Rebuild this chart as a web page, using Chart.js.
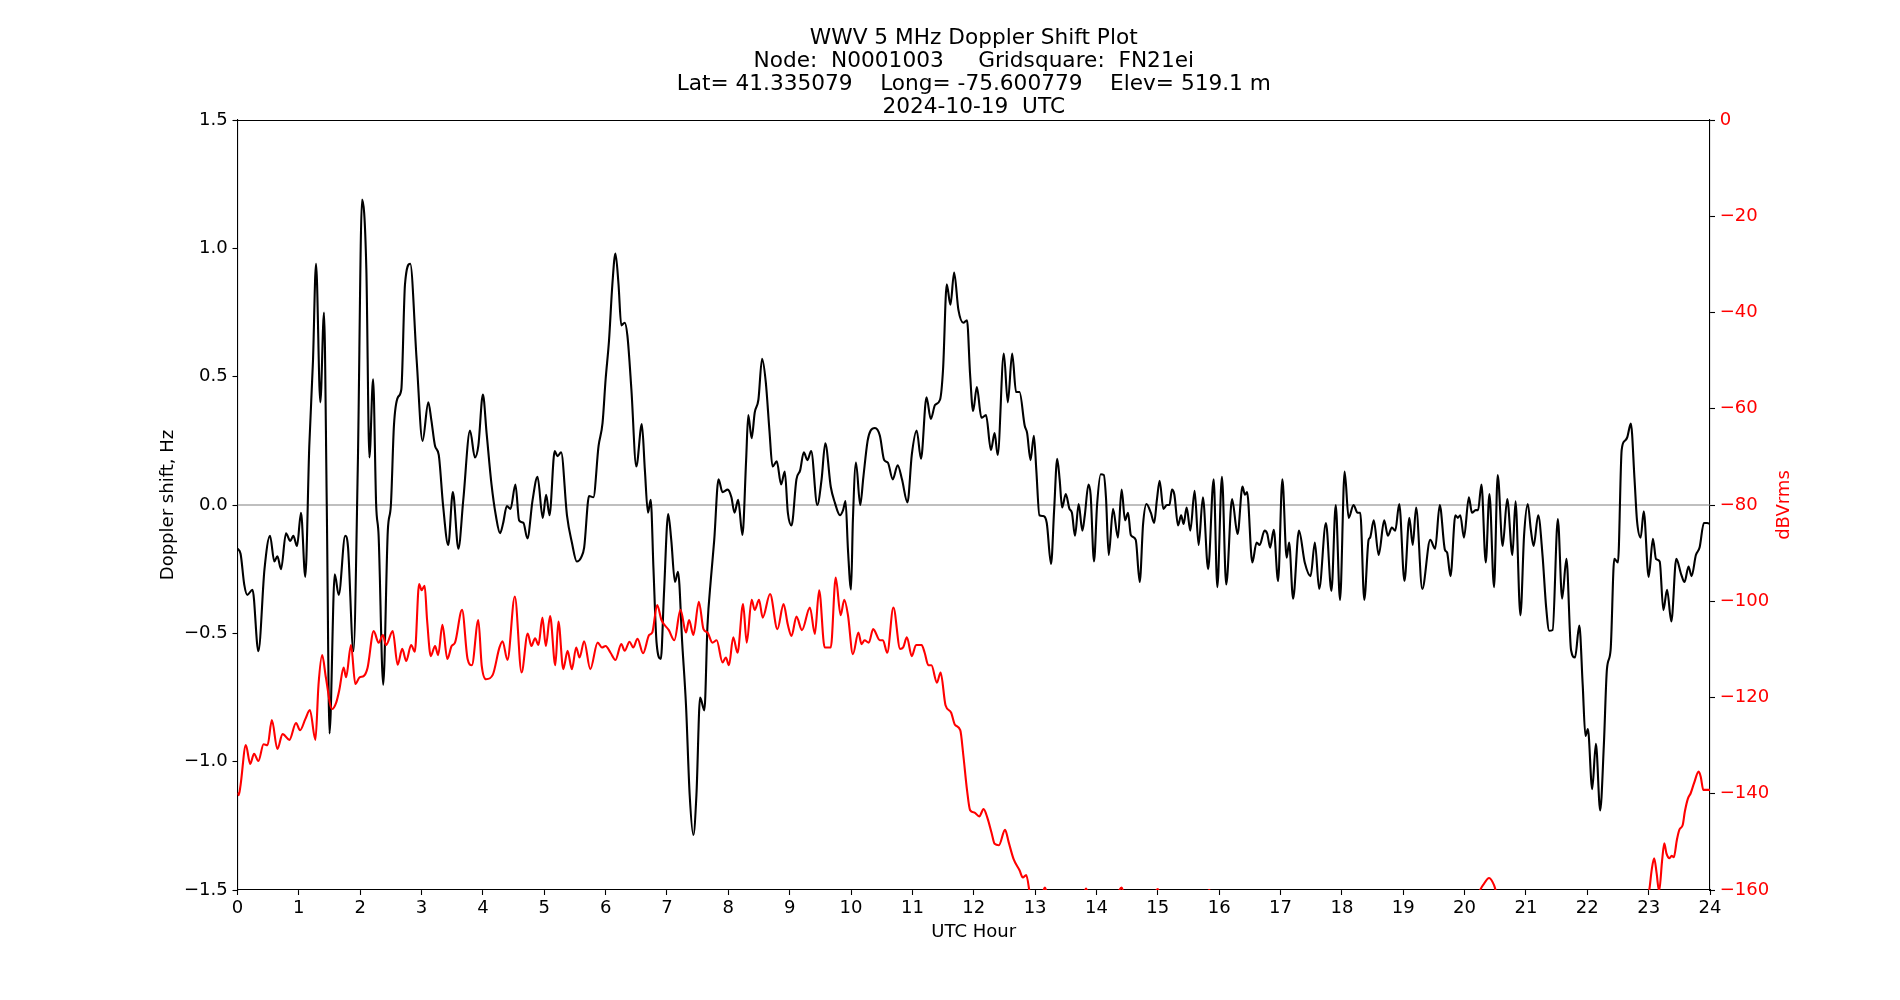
<!DOCTYPE html>
<html>
<head>
<meta charset="utf-8">
<title>WWV 5 MHz Doppler Shift Plot</title>
<script src="https://cdn.jsdelivr.net/npm/chart.js@4.4.1/dist/chart.umd.min.js"></script>
<style>
  html, body { margin:0; padding:0; background:#fff; }
  canvas { display:block; }
</style>
</head>
<body>
<canvas id="dopplerChart" width="1900" height="1000"></canvas>
<script>
/***********************
 * TEXTE
 ***********************/
var TITLE_LINES = [
  "WWV 5 MHz Doppler Shift Plot",
  "Node:  N0001003     Gridsquare:  FN21ei",
  "Lat= 41.335079    Long= -75.600779    Elev= 519.1 m",
  "2024-10-19  UTC"
];
var X_LABEL = "UTC Hour";
var LEFT_LABEL = "Doppler shift, Hz";
var RIGHT_LABEL = "dBVrms";

/***********************
 * ACHSEN
 ***********************/
var X_MIN = 0, X_MAX = 24, X_STEP = 1;
var LEFT_MIN = -1.5, LEFT_MAX = 1.5, LEFT_STEP = 0.5;
var RIGHT_MIN = -160, RIGHT_MAX = 0, RIGHT_STEP = 20;
var ZERO_LEVEL = 0;

/***********************
 * DATEN
 ***********************/
// Doppler shift (Hz), black line
var DOPPLER_HOURS = [
  0.00,0.05,0.11,0.16,0.245,0.34,0.44,0.53,0.60,0.65,0.71,0.79,0.86,0.91,0.97,1.035,1.105,1.17,1.23,1.28,
  1.35,1.41,1.455,1.50,1.585,1.65,1.755,1.80,1.89,1.96,2.03,2.10,2.15,2.21,2.26,2.30,2.375,2.45,2.50,2.55,
  2.615,2.67,2.73,2.815,2.92,3.016,3.11,3.16,3.22,3.28,3.35,3.435,3.51,3.60,3.68,3.79,3.87,3.925,4.00,4.06,
  4.14,4.21,4.28,4.33,4.39,4.45,4.53,4.59,4.66,4.725,4.81,4.89,4.975,5.03,5.085,5.17,5.215,5.275,5.37,5.45,
  5.53,5.60,5.65,5.73,5.80,5.885,5.95,6.00,6.055,6.11,6.16,6.21,6.255,6.31,6.355,6.42,6.50,6.59,6.64,6.69,
  6.735,6.78,6.83,6.90,6.95,7.02,7.07,7.13,7.18,7.25,7.31,7.37,7.43,7.48,7.54,7.61,7.66,7.715,7.77,7.84,
  7.905,7.99,8.05,8.10,8.16,8.23,8.29,8.325,8.38,8.43,8.49,8.55,8.61,8.67,8.72,8.79,8.86,8.92,8.97,9.03,
  9.11,9.17,9.23,9.29,9.35,9.45,9.52,9.58,9.67,9.735,9.82,9.87,9.91,9.95,10.00,10.03,10.08,10.15,10.20,10.27,
  10.32,10.39,10.47,10.54,10.60,10.68,10.76,10.83,10.92,10.99,11.07,11.14,11.23,11.30,11.37,11.45,11.50,11.56,11.62,11.68,
  11.75,11.83,11.89,11.94,11.99,12.05,12.125,12.20,12.28,12.34,12.39,12.49,12.555,12.626,12.69,12.746,12.83,12.87,12.925,12.98,
  13.02,13.07,13.13,13.19,13.26,13.31,13.36,13.40,13.44,13.50,13.56,13.60,13.65,13.71,13.77,13.81,13.87,13.905,13.96,14.01,
  14.07,14.12,14.155,14.20,14.27,14.35,14.41,14.466,14.515,14.56,14.64,14.705,14.76,14.815,14.886,14.94,14.985,15.03,15.09,15.15,
  15.19,15.23,15.27,15.33,15.38,15.42,15.47,15.53,15.60,15.665,15.735,15.82,15.91,15.97,16.045,16.115,16.21,16.30,16.38,16.42,
  16.455,16.54,16.61,16.66,16.74,16.785,16.83,16.89,16.96,17.03,17.10,17.14,17.205,17.30,17.395,17.49,17.56,17.63,17.74,17.83,
  17.90,17.97,18.045,18.11,18.19,18.255,18.30,18.365,18.435,18.46,18.52,18.60,18.69,18.75,18.815,18.87,18.935,19.02,19.10,19.155,
  19.21,19.31,19.44,19.52,19.595,19.68,19.715,19.77,19.85,19.89,19.93,19.99,20.07,20.12,20.18,20.22,20.275,20.345,20.405,20.48,
  20.54,20.62,20.695,20.78,20.83,20.91,20.97,21.03,21.08,21.125,21.20,21.27,21.33,21.38,21.435,21.52,21.59,21.66,21.735,21.80,
  21.87,21.925,21.97,22.01,22.08,22.14,22.21,22.27,22.32,22.38,22.44,22.50,22.56,22.61,22.65,22.71,22.77,22.81,22.87,22.92,
  23.00,23.07,23.12,23.18,23.24,23.30,23.37,23.45,23.53,23.585,23.65,23.70,23.77,23.83,23.90,23.955,24.00
];
var DOPPLER_HZ = [
  -0.17,-0.19,-0.31,-0.35,-0.33,-0.57,-0.25,-0.12,-0.22,-0.20,-0.25,-0.11,-0.14,-0.12,-0.16,-0.03,-0.28,0.23,0.56,0.94,
  0.40,0.75,0.00,-0.89,-0.27,-0.35,-0.12,-0.16,-0.57,0.14,1.19,0.92,0.185,0.49,0.00,-0.12,-0.70,-0.10,0.00,0.31,
  0.42,0.45,0.86,0.94,0.565,0.25,0.40,0.33,0.23,0.195,0.00,-0.156,0.05,-0.17,0.02,0.29,0.185,0.23,0.43,0.28,
  0.08,-0.04,-0.11,-0.07,-0.004,-0.015,0.08,-0.06,-0.07,-0.13,0.02,0.11,-0.05,0.04,-0.04,0.21,0.19,0.205,-0.04,-0.146,
  -0.22,-0.205,-0.166,0.035,0.03,0.23,0.32,0.49,0.64,0.86,0.98,0.86,0.70,0.71,0.66,0.45,0.15,0.315,0.135,-0.03,
  0.02,-0.25,-0.535,-0.60,-0.35,-0.035,-0.137,-0.30,-0.26,-0.545,-0.78,-1.13,-1.286,-1.13,-0.75,-0.80,-0.47,-0.29,-0.137,0.10,
  0.05,0.06,0.03,-0.03,0.02,-0.117,0.175,0.35,0.26,0.36,0.41,0.57,0.48,0.29,0.15,0.17,0.08,0.13,-0.03,-0.08,
  0.10,0.135,0.205,0.175,0.21,0.00,0.10,0.24,0.07,0.01,-0.04,-0.02,0.015,-0.175,-0.33,-0.06,0.165,0.00,0.107,0.25,
  0.29,0.30,0.27,0.175,0.165,0.10,0.155,0.10,0.01,0.195,0.29,0.18,0.42,0.335,0.39,0.41,0.53,0.86,0.78,0.906,
  0.76,0.71,0.72,0.51,0.366,0.46,0.34,0.35,0.214,0.28,0.195,0.59,0.40,0.59,0.44,0.44,0.31,0.28,0.175,0.27,
  0.135,-0.04,-0.043,-0.07,-0.23,-0.02,0.18,0.10,-0.01,0.043,-0.015,-0.03,-0.12,0.004,-0.10,-0.04,0.08,0.04,-0.22,0.00,
  0.12,0.117,0.03,-0.195,-0.015,-0.127,0.06,-0.06,-0.03,-0.117,-0.136,-0.30,-0.074,0.004,-0.03,-0.07,0.02,0.094,-0.015,0.00,
  0.00,0.06,0.04,-0.08,-0.04,-0.074,-0.01,-0.10,0.055,-0.156,0.03,-0.25,0.10,-0.32,0.11,-0.31,0.023,-0.113,0.072,0.04,
  0.05,-0.224,-0.146,-0.156,-0.10,-0.113,-0.166,-0.097,-0.296,0.10,-0.205,-0.146,-0.365,-0.10,-0.224,-0.277,-0.146,-0.327,-0.07,-0.335,
  0.00,-0.37,0.13,-0.05,0.00,-0.03,-0.03,-0.37,-0.136,-0.127,-0.06,-0.195,-0.06,-0.12,-0.088,-0.10,0.004,-0.296,-0.05,-0.156,
  -0.01,-0.327,-0.136,-0.17,0.00,-0.175,-0.185,-0.277,-0.04,-0.05,-0.04,-0.127,0.03,-0.03,-0.02,-0.02,0.08,-0.224,0.043,-0.32,
  0.117,-0.16,0.023,-0.195,0.014,-0.43,-0.117,0.004,-0.097,-0.16,-0.04,-0.195,-0.40,-0.49,-0.487,-0.055,-0.365,-0.21,-0.565,-0.594,
  -0.47,-0.70,-0.90,-0.873,-1.107,-0.93,-1.19,-0.935,-0.64,-0.565,-0.21,-0.224,0.214,0.25,0.263,0.317,0.10,-0.06,-0.127,-0.025,
  -0.28,-0.132,-0.21,-0.22,-0.41,-0.33,-0.454,-0.21,-0.27,-0.30,-0.24,-0.277,-0.195,-0.166,-0.07,-0.07,-0.074
];

// Signal level (dBVrms), red line
var LEVEL_HOURS = [
  0.00,0.02,0.05,0.136,0.207,0.27,0.34,0.425,0.49,0.56,0.65,0.735,0.845,0.954,1.02,1.105,1.18,1.27,1.32,1.38,
  1.44,1.54,1.61,1.66,1.73,1.77,1.85,1.92,1.99,2.06,2.12,2.22,2.30,2.37,2.42,2.53,2.61,2.685,2.75,2.83,
  2.89,2.96,3.00,3.05,3.09,3.15,3.22,3.27,3.34,3.42,3.49,3.545,3.66,3.75,3.82,3.925,3.98,4.05,4.16,4.27,
  4.32,4.40,4.52,4.63,4.73,4.79,4.85,4.905,4.97,5.025,5.095,5.18,5.23,5.31,5.38,5.45,5.52,5.575,5.65,5.75,
  5.87,5.94,6.00,6.08,6.16,6.255,6.31,6.39,6.45,6.52,6.61,6.71,6.76,6.84,6.91,7.03,7.12,7.22,7.31,7.36,
  7.43,7.52,7.595,7.66,7.74,7.81,7.905,7.96,8.01,8.08,8.15,8.24,8.30,8.38,8.43,8.50,8.56,8.68,8.80,8.90,
  8.97,9.03,9.11,9.20,9.33,9.41,9.48,9.57,9.67,9.75,9.83,9.89,9.95,10.03,10.12,10.17,10.22,10.29,10.36,10.47,
  10.52,10.59,10.69,10.80,10.85,10.91,10.99,11.06,11.15,11.20,11.26,11.31,11.40,11.46,11.54,11.63,11.695,11.78,11.83,11.89,
  11.94,12.01,12.09,12.16,12.22,12.29,12.34,12.41,12.51,12.57,12.65,12.746,12.80,12.855,12.925,13.00,13.10,13.16,13.22,13.40,
  13.60,13.78,13.83,13.89,14.10,14.30,14.41,14.47,14.70,14.93,15.00,15.06,15.40,15.78,15.84,15.90,16.50,17.50,18.50,19.50,
  20.20,20.30,20.40,20.48,20.55,21.00,22.00,22.70,22.95,23.01,23.05,23.09,23.13,23.17,23.22,23.255,23.29,23.34,23.375,23.41,
  23.46,23.50,23.555,23.59,23.64,23.685,23.74,23.815,23.85,23.89,24.00
];
var LEVEL_DB = [
  -139.8,-140.3,-138.2,-129.9,-133.8,-131.7,-133.2,-129.7,-129.9,-124.7,-130.7,-127.6,-128.8,-125.3,-126.8,-124.5,-122.6,-128.8,-117.4,-111.2,
  -115.8,-122.4,-121.0,-118.4,-113.8,-115.8,-109.1,-117.2,-115.8,-115.5,-113.8,-106.2,-108.6,-107.0,-109.1,-106.2,-113.2,-109.9,-112.4,-109.1,
  -110.5,-96.4,-97.7,-96.8,-103.9,-111.4,-109.3,-111.2,-104.9,-112.0,-109.3,-108.6,-101.8,-112.0,-113.3,-103.9,-113.3,-116.2,-115.3,-109.6,
  -108.3,-112.2,-99.0,-114.8,-106.7,-109.3,-107.7,-109.1,-103.4,-109.3,-103.1,-113.3,-104.2,-114.1,-110.3,-114.1,-109.6,-111.7,-108.3,-114.1,
  -108.6,-109.6,-109.3,-110.7,-112.2,-108.9,-110.3,-108.4,-109.6,-107.8,-110.8,-107.0,-106.5,-100.8,-103.9,-106.0,-108.1,-101.8,-106.5,-103.9,
  -107.0,-100.1,-105.8,-106.5,-108.6,-108.1,-112.7,-111.7,-113.3,-107.5,-110.7,-100.6,-108.6,-99.7,-101.8,-99.7,-103.4,-98.5,-105.8,-100.6,
  -104.9,-107.2,-103.2,-106.0,-101.3,-106.8,-97.7,-109.6,-109.6,-95.1,-102.9,-99.7,-102.9,-111.0,-106.5,-108.9,-108.1,-108.6,-105.8,-108.1,
  -108.1,-110.7,-101.3,-109.9,-109.6,-107.5,-111.4,-109.1,-109.1,-110.7,-113.3,-113.3,-116.9,-114.8,-121.6,-123.1,-125.7,-126.8,-132.0,-139.2,
  -143.4,-143.9,-144.7,-143.2,-144.9,-148.1,-150.4,-150.7,-147.5,-150.1,-153.6,-155.9,-157.4,-156.9,-161.5,-164.0,-161.5,-159.5,-162.0,-166.0,
  -164.0,-161.5,-159.7,-162.0,-165.0,-162.0,-159.5,-162.0,-164.5,-161.0,-159.8,-162.0,-166.0,-161.0,-160.0,-162.0,-167.0,-168.0,-167.0,-165.0,
  -161.0,-159.0,-157.5,-159.0,-162.0,-168.0,-170.0,-166.0,-162.0,-160.0,-155.8,-153.4,-156.5,-160.3,-153.8,-150.3,-152.4,-153.4,-152.9,-153.2,
  -149.6,-147.5,-146.5,-143.7,-141.0,-139.9,-137.8,-135.4,-136.5,-139.2,-139.2
];

/***********************
 * HILFSFUNKTIONEN
 ***********************/
var FONT_FAMILY = "'DejaVu Sans', 'Liberation Sans', sans-serif";
var FS = 18.05;        // 13 pt bei 100 dpi
var FS_TITLE = 21.67;  // "large"

function pairs(xs, ys){
  var out = [];
  for (var i=0;i<xs.length;i++) out.push({ x: xs[i], y: ys[i] });
  return out;
}
function minus(s){ return String(s).replace("-", "\u2212"); }

/***********************
 * PLUGIN: Titel, rechte Achsenbeschriftung, oberer Rahmen
 ***********************/
var mplDecor = {
  id: "mplDecor",
  afterDatasetsDraw: function(chart){
    var ctx = chart.ctx, a = chart.chartArea;
    ctx.save();
    // oberer Rahmen
    ctx.strokeStyle = "#000";
    ctx.lineWidth = 1.1;
    ctx.beginPath();
    ctx.moveTo(a.left, a.top + 0.5);
    ctx.lineTo(a.right, a.top + 0.5);
    ctx.stroke();
    ctx.restore();
  },
  afterDraw: function(chart){
    var ctx = chart.ctx, a = chart.chartArea;
    ctx.save();
    ctx.fillStyle = "#000";
    ctx.font = FS_TITLE + "px " + FONT_FAMILY;
    ctx.textAlign = "center";
    ctx.textBaseline = "alphabetic";
    var cx = (a.left + a.right) / 2;
    var lastBase = a.top - 7.1;
    var n = TITLE_LINES.length;
    for (var i=0;i<n;i++){
      ctx.fillText(TITLE_LINES[i], cx, lastBase - (n-1-i)*23.0);
    }
    // rechte y-Achse: Beschriftung von unten nach oben
    ctx.fillStyle = "#ff0000";
    ctx.font = FS + "px " + FONT_FAMILY;
    ctx.translate(a.right + 78.5, (a.top + a.bottom) / 2);
    ctx.rotate(-Math.PI/2);
    ctx.fillText(RIGHT_LABEL, 0, 0);
    ctx.restore();
  }
};

/***********************
 * CHART
 ***********************/
Chart.defaults.font.family = FONT_FAMILY;
Chart.defaults.font.size = FS;
Chart.defaults.color = "#000";

var tickGrid = { display:true, drawOnChartArea:false, drawTicks:true, tickLength:5, tickWidth:1.1, tickColor:"#000" };
var axisBorder = { display:true, color:"#000", width:1.1 };

new Chart(document.getElementById("dopplerChart").getContext("2d"), {
  type: "line",
  data: {
    datasets: [
      {
        label: "dBVrms",
        data: pairs(LEVEL_HOURS, LEVEL_DB),
        yAxisID: "y2",
        borderColor: "#ff0000",
        borderWidth: 2.1,
        pointRadius: 0,
        fill: false,
        cubicInterpolationMode: "monotone",
        order: 0
      },
      {
        label: "Doppler shift",
        data: pairs(DOPPLER_HOURS, DOPPLER_HZ),
        yAxisID: "y",
        borderColor: "#000000",
        borderWidth: 2.1,
        pointRadius: 0,
        fill: false,
        cubicInterpolationMode: "monotone",
        order: 1
      },
      {
        label: "zero",
        data: pairs([X_MIN, X_MAX], [ZERO_LEVEL, ZERO_LEVEL]),
        yAxisID: "y",
        borderColor: "#808080",
        borderWidth: 1.2,
        pointRadius: 0,
        fill: false,
        order: 2
      }
    ]
  },
  options: {
    responsive: false,
    animation: false,
    devicePixelRatio: 1,
    layout: { padding: { top: 120, left: 0, right: 0, bottom: 0 } },
    plugins: {
      legend: { display:false },
      tooltip: { enabled:false },
      title: { display:false }
    },
    scales: {
      x: {
        type: "linear",
        position: "bottom",
        min: X_MIN, max: X_MAX,
        grid: tickGrid,
        border: axisBorder,
        ticks: {
          stepSize: X_STEP, autoSkip:false, maxRotation:0, padding:2, color:"#000",
          callback: function(v){ return String(v); }
        },
        title: { display:true, text:X_LABEL, color:"#000", font:{ size:FS }, padding:{ top:0, bottom:57 } },
        afterFit: function(s){ s.height = 110; }
      },
      y: {
        type: "linear",
        position: "left",
        min: LEFT_MIN, max: LEFT_MAX,
        grid: tickGrid,
        border: axisBorder,
        ticks: {
          stepSize: LEFT_STEP, padding:4.7, color:"#000",
          callback: function(v){ return minus(Number(v).toFixed(1)); }
        },
        title: { display:true, text:LEFT_LABEL, color:"#000", font:{ size:FS }, padding:{ top:157.5, bottom:0 } },
        afterFit: function(s){ s.width = 237.5; }
      },
      y2: {
        type: "linear",
        position: "right",
        min: RIGHT_MIN, max: RIGHT_MAX,
        grid: tickGrid,
        border: axisBorder,
        ticks: {
          stepSize: RIGHT_STEP, padding:4.7, color:"#ff0000",
          callback: function(v){ return minus(Math.round(v)); }
        },
        afterFit: function(s){ s.width = 190; }
      }
    }
  },
  plugins: [mplDecor]
});
</script>
</body>
</html>
